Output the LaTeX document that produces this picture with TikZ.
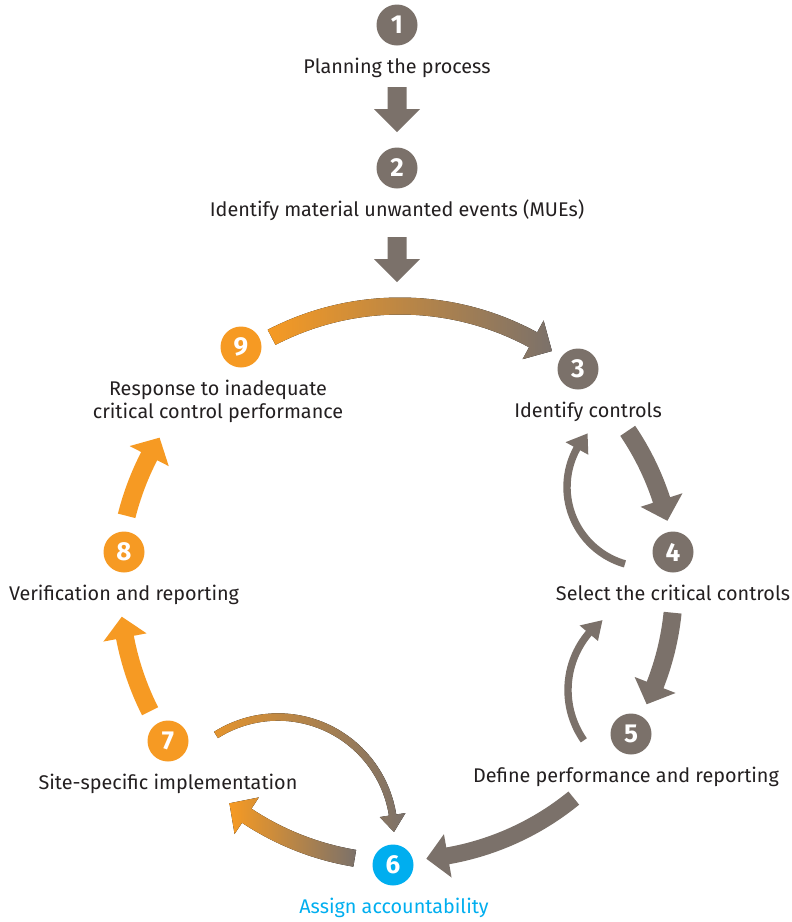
\documentclass[tikz,border=0pt]{standalone}
\usepackage{fontspec}
\setmainfont{Fira Sans}
\definecolor{cgrey}{RGB}{123,113,106}
\definecolor{corange}{RGB}{246,154,35}
\definecolor{cblue}{RGB}{0,174,239}
\definecolor{ctext}{RGB}{35,31,32}
% #1 style, #2 radius, #3 start angle, #4 head-base angle, #5 tip angle, #6 half shaft, #7 half head
\newcommand\arcarr[7]{%
  \fill[#1] ({#3}:{#2+#6}) arc[start angle={#3}, end angle={#4}, radius={#2+#6}]
    -- ({#4}:{#2+#7}) -- ({#5}:{#2}) -- ({#4}:{#2-#7}) -- ({#4}:{#2-#6})
    arc[start angle={#4}, end angle={#3}, radius={#2-#6}] -- cycle;}
\begin{document}
\begin{tikzpicture}[x=1pt,y=1pt,
  num/.style={circle, minimum size=41pt, inner sep=0pt, text=white,
    font=\fontsize{26}{26}\selectfont\bfseries},
  lbl/.style={anchor=base, text=ctext, inner sep=0pt, align=center,
    font=\fontsize{19.8}{23}\selectfont},
  downarrow/.style={fill=cgrey},
]
\useasboundingbox (0,0) rectangle (792,-922);

% numbered circles
\node[num, fill=cgrey]   (n1) at (397,-25)  {1};
\node[num, fill=cgrey]   (n2) at (397,-168) {2};
\node[num, fill=cgrey]   (n3) at (578,-369) {3};
\node[num, fill=cgrey]   (n4) at (673,-552) {4};
\node[num, fill=cgrey]   (n5) at (631,-734) {5};
\node[num, fill=cblue]   (n6) at (393,-865) {6};
\node[num, fill=corange] (n7) at (168,-741) {7};
\node[num, fill=corange] (n8) at (124,-552) {8};
\node[num, fill=corange] (n9) at (241,-347) {9};

% labels
\node[lbl] (t1) at (397,-73)  {Planning the process};
\node[lbl] (t2) at (397,-216) {Identify material unwanted events (MUEs)};
\node[lbl] (t3) at (588,-417) {Identify controls};
\node[lbl] (t4) at (673,-600) {Select the critical controls};
\node[lbl] (t5) at (626,-782) {Define performance and reporting};
\node[lbl, text=cblue] (t6) at (394,-913) {Assign accountability};
\node[lbl] (t7) at (168,-789) {Site-specific implementation};
\node[lbl] (t8) at (124,-600) {Verification and reporting};
\node[lbl] (t9a) at (218,-395) {Response to inadequate};
\node[lbl] (t9b) at (218,-418) {critical control performance};

% straight arrows
\foreach \dy in {0,150} {
  \fill[downarrow] (387.5,-87-\dy) -- (406.5,-87-\dy) -- (406.5,-109-\dy) -- (420,-109-\dy)
    -- (397,-132-\dy) -- (374,-109-\dy) -- (387.5,-109-\dy) -- cycle;
}

% big cycle arrows
\begin{scope}[shift={(400,-585)}]
  \arcarr{left color=corange, right color=cgrey}{279}{117.4}{61.5}{57}{8.5}{22}
  \arcarr{cgrey}{275}{34.1}{18}{13.5}{9}{22}
  \arcarr{cgrey}{274}{-5.8}{-21.4}{-25.8}{9}{22}
  \arcarr{cgrey}{275}{-50.8}{-80}{-84.5}{8.5}{22}
  \arcarr{left color=corange, right color=cgrey}{277}{260.6}{236.4}{232}{8.5}{22}
  \arcarr{corange}{280}{206.8}{190.8}{186.5}{9}{22}
  \arcarr{corange}{282}{165.8}{152.8}{148.5}{9}{22}
\end{scope}

% thin back arrows
\begin{scope}[shift={(647,-487)}]
  \arcarr{cgrey}{80}{254}{151.2}{138}{3.7}{13}
\end{scope}
\begin{scope}[shift={(656,-690)}]
  \arcarr{cgrey}{88}{214.9}{139.8}{127.5}{3.7}{12}
\end{scope}
\begin{scope}[shift={(278,-833)}]
  \arcarr{left color=corange!85!cgrey, right color=cgrey}{116}{122.3}{8.9}{0.5}{3.7}{13}
\end{scope}
\end{tikzpicture}
\end{document}
